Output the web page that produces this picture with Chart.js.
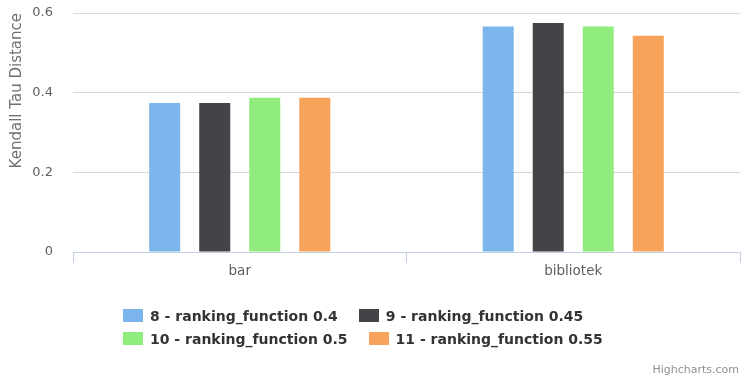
<!DOCTYPE html>
<html>
<head>
<meta charset="utf-8">
<script src="https://cdn.jsdelivr.net/npm/chart.js@4.4.0/dist/chart.umd.min.js"></script>
<style>
  html, body { margin: 0; padding: 0; background: #fff; }
  #wrap { position: relative; width: 741px; height: 377px; font-family: "DejaVu Sans", sans-serif; }
  #chart { display: block; }
  #legend .row { position: absolute; left: 123px; height: 16px; display: flex; white-space: nowrap; }
  #legend .item { position: relative; height: 16px; line-height: 16px; font-size: 14px; font-weight: bold; color: #333; padding-left: 27px; margin-right: 21px; }
  #legend .box { position: absolute; left: 0; top: 1px; width: 20px; height: 13px; }
  #credit { position: absolute; right: 2px; top: 363px; font-size: 11px; color: #909090; }
</style>
</head>
<body>
<div id="wrap">
  <canvas id="chart" width="741" height="377"></canvas>
  <div id="legend"></div>
  <div id="credit">Highcharts.com</div>
</div>
<script>
var categories = ['bar', 'bibliotek'];
var seriesNames = [
    '8 - ranking_function 0.4',
    '9 - ranking_function 0.45',
    '10 - ranking_function 0.5',
    '11 - ranking_function 0.55'
];
var rf04 = [0.374, 0.566];
var rf045 = [0.374, 0.575];
var rf05 = [0.387, 0.566];
var rf055 = [0.387, 0.543];
var yTicks = [0, 0.2, 0.4, 0.6];
var colors = ['#7cb5ec', '#434348', '#90ed7d', '#f7a35c'];

var allValues = [rf04, rf045, rf05, rf055];
var datasets = [];
for (var i = 0; i < seriesNames.length; i++) {
    datasets.push({
        label: seriesNames[i],
        data: allValues[i],
        backgroundColor: colors[i],
        borderWidth: 0,
        categoryPercentage: 0.6,
        barPercentage: 0.62
    });
}

var ctx = document.getElementById('chart').getContext('2d');
var chart = new Chart(ctx, {
    type: 'bar',
    data: { labels: categories, datasets: datasets },
    options: {
        responsive: false,
        animation: false,
        layout: { padding: { left: 0, right: 1, top: 13, bottom: 0 } },
        plugins: {
            legend: { display: false },
            tooltip: { enabled: false }
        },
        scales: {
            x: {
                offset: true,
                afterFit: function (scale) {
                    scale.height = 125;
                    scale.paddingTop = 0;
                },
                border: { color: '#c0d0e0', width: 1 },
                grid: {
                    offset: true,
                    drawOnChartArea: false,
                    drawTicks: true,
                    tickLength: 11,
                    color: '#c0d0e0'
                },
                ticks: {
                    padding: 0,
                    color: '#606060',
                    font: { family: 'DejaVu Sans', size: 13.5 }
                }
            },
            y: {
                min: 0,
                max: 0.6,
                afterFit: function (scale) {
                    scale.width = 73;
                    scale.paddingTop = 0;
                    scale.paddingBottom = 0;
                },
                afterBuildTicks: function (scale) {
                    scale.ticks = yTicks.map(function (v) { return { value: v }; });
                },
                border: { display: false },
                grid: { color: '#d8d8d8', drawTicks: false },
                ticks: {
                    padding: 20,
                    color: '#606060',
                    font: { family: 'DejaVu Sans', size: 13 },
                    callback: function (v) { return v === 0 ? '0' : v.toFixed(1); }
                },
                title: {
                    display: true,
                    text: 'Kendall Tau Distance',
                    align: 'end',
                    color: '#707070',
                    font: { family: 'DejaVu Sans', size: 15 },
                    padding: { top: 8, bottom: 0 }
                }
            }
        }
    }
});

// Legend: two items per row, flowing like the original
var legendRows = [308, 331];
var legend = document.getElementById('legend');
var rows = legendRows.map(function (top) {
    var r = document.createElement('div');
    r.className = 'row';
    r.style.top = top + 'px';
    legend.appendChild(r);
    return r;
});
chart.data.datasets.forEach(function (ds, idx) {
    var item = document.createElement('span');
    item.className = 'item';
    var box = document.createElement('span');
    box.className = 'box';
    box.style.background = ds.backgroundColor;
    item.appendChild(box);
    item.appendChild(document.createTextNode(ds.label));
    rows[Math.floor(idx / 2)].appendChild(item);
});
</script>
</body>
</html>
